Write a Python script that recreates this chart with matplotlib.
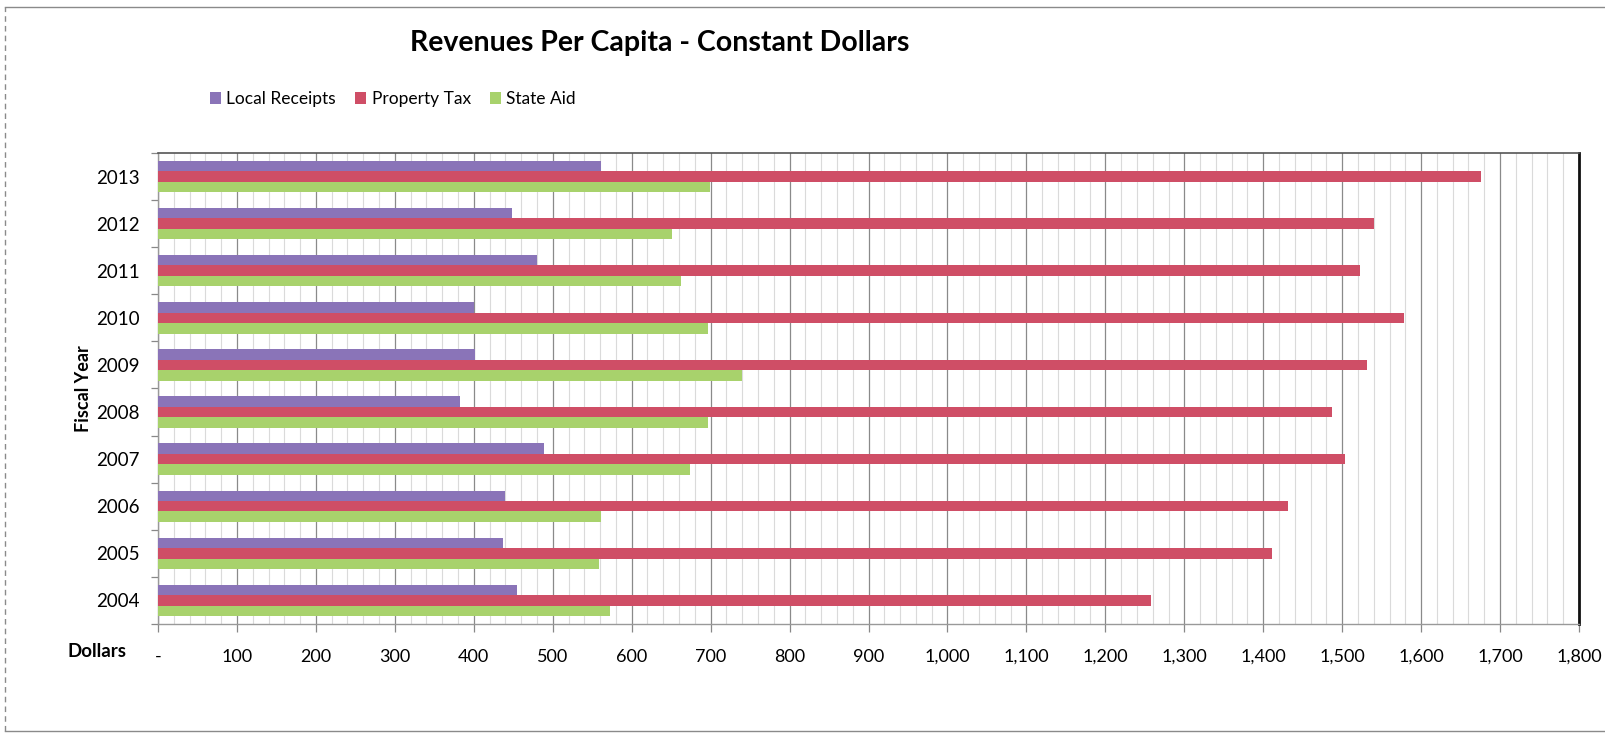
import matplotlib
matplotlib.use("Agg")
import matplotlib.pyplot as plt
import numpy as np
from matplotlib.ticker import FixedLocator, FuncFormatter

plt.rcParams['font.family'] = ['Lato', 'DejaVu Sans']

# Fiscal years (bottom to top)
years = ["2004", "2005", "2006", "2007", "2008", "2009", "2010", "2011", "2012", "2013"]

# Revenues per capita in constant dollars
local_receipts = [455, 437, 439, 489, 382, 402, 400, 480, 449, 561]
property_tax = [1258, 1411, 1431, 1504, 1487, 1531, 1578, 1523, 1540, 1676]
state_aid = [572, 558, 561, 674, 697, 740, 697, 663, 651, 699]

series_names = ["Local Receipts", "Property Tax", "State Aid"]
colors = ["#8a74b8", "#cf4e66", "#a8d26c"]

fig = plt.figure(figsize=(16.06, 7.34), dpi=100)
ax = fig.add_axes([0.0984, 0.1499, 0.8848, 0.6417])

y = np.arange(len(years))
h = 0.2222
offsets = [h, 0.0, -h]
for vals, off, col, name in zip([local_receipts, property_tax, state_aid], offsets, colors, series_names):
    ax.barh(y + off, vals, height=h, color=col, label=name, zorder=3, linewidth=0)

ax.set_xlim(0, 1800)
ax.set_ylim(-0.5, len(years) - 0.5)

# x axis: major every 100, minor gridlines every 20
ax.xaxis.set_major_locator(FixedLocator(np.arange(0, 1801, 100)))
ax.xaxis.set_minor_locator(FixedLocator(np.arange(0, 1801, 20)))
ax.xaxis.set_major_formatter(FuncFormatter(lambda v, p: "-" if v == 0 else f"{int(v):,}"))
ax.grid(axis="x", which="major", color="#8a8a8a", linewidth=0.9, zorder=1)
ax.grid(axis="x", which="minor", color="#dadada", linewidth=0.8, zorder=0)
ax.tick_params(axis="x", which="major", direction="out", length=6, width=0.9,
               color="#888888", labelsize=13, pad=12)
ax.tick_params(axis="x", which="minor", length=0)

# y axis: tick marks between categories, labels centred on groups
ax.yaxis.set_major_locator(FixedLocator(np.arange(-0.5, len(years), 1.0)))
ax.yaxis.set_minor_locator(FixedLocator(y))
ax.yaxis.set_major_formatter(FuncFormatter(lambda v, p: ""))
ax.yaxis.set_minor_formatter(FuncFormatter(lambda v, p: years[int(round(v))]))
ax.tick_params(axis="y", which="major", direction="out", length=5, width=0.9, color="#888888")
ax.tick_params(axis="y", which="minor", length=0, labelsize=13.5, pad=13)

for side, col, lw in [("top", "#555555", 1.2), ("right", "#111111", 2.0),
                      ("bottom", "#999999", 1.0), ("left", "#999999", 1.0)]:
    ax.spines[side].set_color(col)
    ax.spines[side].set_linewidth(lw)

ax.set_ylabel("Fiscal Year", fontsize=13, fontweight="bold", labelpad=3)
fig.text(0.0604, 0.113, "Dollars", fontsize=13.5, fontweight="bold", ha="center", va="center")

fig.text(0.4105, 0.941, "Revenues Per Capita - Constant Dollars", fontsize=20.5,
         fontweight="bold", ha="center", va="center")

leg = fig.legend(loc="center left", bbox_to_anchor=(0.121, 0.865), ncol=3, frameon=False,
                 fontsize=12.5, handlelength=0.65, handleheight=0.65, handletextpad=0.3,
                 columnspacing=1.1)

# page frame
frame_kw = dict(color="#8a8a8a", linewidth=1.0, transform=fig.transFigure, clip_on=False)
fig.add_artist(plt.Line2D([0.003, 0.003], [0.004, 0.99], linestyle=(0, (4, 3)), **frame_kw))
fig.add_artist(plt.Line2D([0.003, 1.0], [0.99, 0.99], **frame_kw))
fig.add_artist(plt.Line2D([0.003, 1.0], [0.004, 0.004], **frame_kw))

fig.savefig("out.png", dpi=100, facecolor="white")
